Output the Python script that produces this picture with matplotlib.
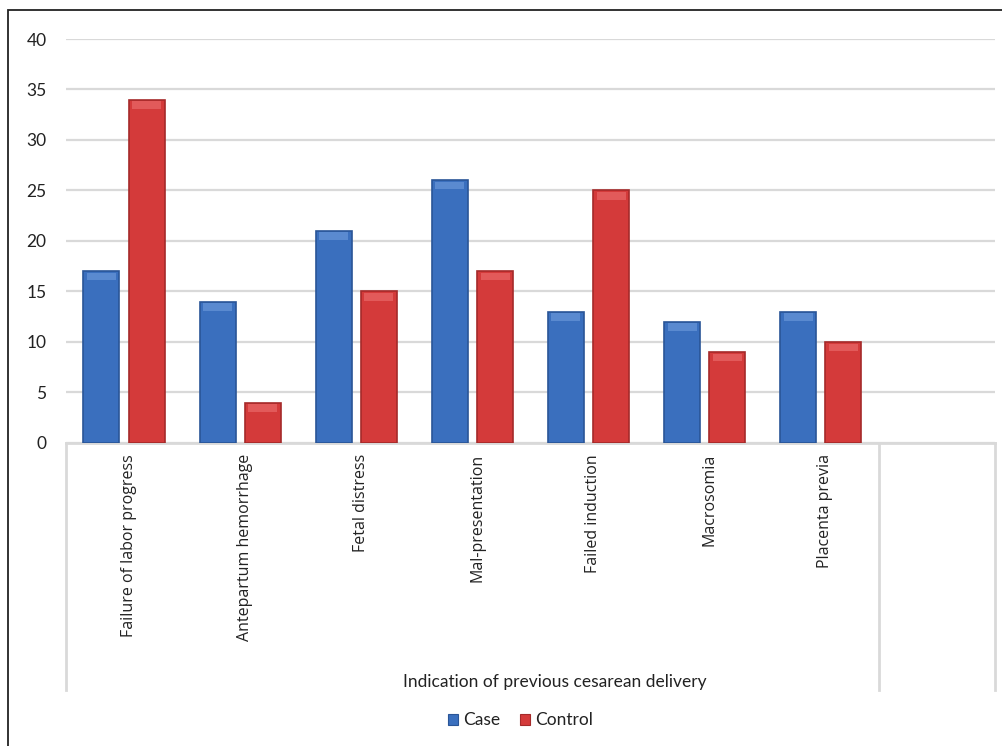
import numpy as np
import matplotlib.pyplot as plt
from matplotlib.patches import Rectangle

# values
categories = ["Failure of labor progress", "Antepartum hemorrhage", "Fetal distress",
              "Mal-presentation", "Failed induction", "Macrosomia", "Placenta previa"]
case_vals = [17, 14, 21, 26, 13, 12, 13]
control_vals = [34, 4, 15, 17, 25, 9, 10]
y_ticks = [0, 5, 10, 15, 20, 25, 30, 35, 40]

W, H = 1003, 746
fig = plt.figure(figsize=(W / 100, H / 100), dpi=100)
ax = fig.add_axes([66 / W, 1 - 443 / H, (995 - 66) / W, (443 - 39) / H])

grid_c = "#d9d9d9"
blue, blue_edge = "#3a6fbe", "#2a5597"
red, red_edge = "#d43a3a", "#a52a2a"

x = np.arange(len(categories))
bw = 0.31
off = 0.195
ax.bar(x - off, case_vals, bw, color=blue, edgecolor=blue_edge, linewidth=1.2, zorder=3)
ax.bar(x + off, control_vals, bw, color=red, edgecolor=red_edge, linewidth=1.2, zorder=3)

# soft bevel on bar tops
for xs, vals, hc in [(x - off, case_vals, "#5a8ad0"), (x + off, control_vals, "#e25a5a")]:
    for xi, v in zip(xs, vals):
        ax.add_patch(Rectangle((xi - bw / 2 + 0.03, v - 0.9), bw - 0.06, 0.75,
                               color=hc, lw=0, zorder=4))

ax.set_xlim(-0.5, len(categories) + 0.5)
ax.set_ylim(0, 40)
ax.set_yticks(y_ticks)
ax.yaxis.grid(True, color=grid_c, linewidth=1.6, zorder=0)
ax.set_axisbelow(True)
for s in ["top", "right", "left"]:
    ax.spines[s].set_visible(False)
ax.spines["bottom"].set_color(grid_c)
ax.spines["bottom"].set_linewidth(2)
ax.tick_params(axis="y", length=0, pad=14, labelsize=12.5, labelcolor="#222222")
ax.tick_params(axis="x", length=0)
ax.set_xticks([])
for lab in ax.get_yticklabels():
    lab.set_fontfamily("Lato")

# category labels, rotated
for xi, name in zip(x, categories):
    ax.text(xi + 0.04, -1.1, name, rotation=90, ha="center", va="top",
            fontsize=11.5, family="Open Sans", color="#222222")

# box lines below the axis
trans = ax.get_xaxis_transform()
y_low = -(690 - 443) / (443 - 39)
for xv in [-0.5, 6.5, 7.5]:
    ax.plot([xv, xv], [0, y_low], color=grid_c, lw=2, transform=trans, clip_on=False)

fig.text(555 / W, 1 - 682 / H, "Indication of previous cesarean delivery",
         ha="center", va="center", fontsize=12.5, family="Lato", color="#222222")

# legend
fig.patches.append(Rectangle((448 / W, 1 - 725 / H), 10 / W, 11 / H, facecolor=blue,
                             edgecolor=blue_edge, lw=0.8, transform=fig.transFigure))
fig.text(463 / W, 1 - 720 / H, "Case", ha="left", va="center", fontsize=12.5,
         family="Lato", color="#222222")
fig.patches.append(Rectangle((520 / W, 1 - 725 / H), 10 / W, 11 / H, facecolor=red,
                             edgecolor=red_edge, lw=0.8, transform=fig.transFigure))
fig.text(535 / W, 1 - 720 / H, "Control", ha="left", va="center", fontsize=12.5,
         family="Lato", color="#222222")

# outer frame (left and top visible)
fig.patches.append(Rectangle((8 / W, -0.01), 1.1, 1 - 10 / H + 0.01, fill=False,
                             edgecolor="#222222", lw=1.3, transform=fig.transFigure))

fig.savefig("out.png", dpi=100)
